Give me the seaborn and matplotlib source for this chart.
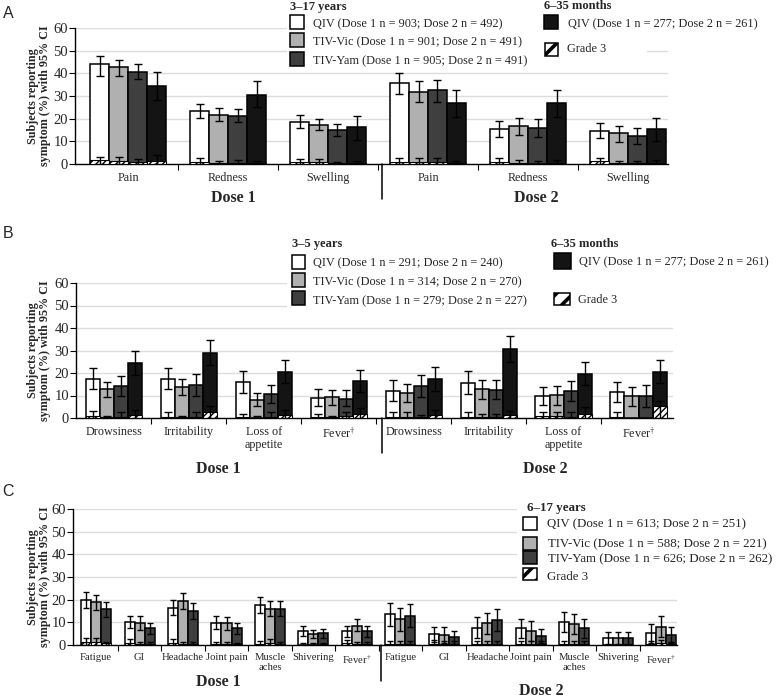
import numpy as np
import pandas as pd
import matplotlib
matplotlib.use("Agg")
import matplotlib.pyplot as plt
import seaborn as sns
from matplotlib.patches import Rectangle
from matplotlib.transforms import blended_transform_factory

# ---------------- data ----------------
GROUPS4 = ["QIV 3-17y", "TIV-Vic", "TIV-Yam", "QIV 6-35m"]
GROUPS3 = ["QIV", "TIV-Vic", "TIV-Yam"]

FEVER = r"Fever$^{\dagger}$"

A_cats = ["Pain", "Redness", "Swelling", "Pain", "Redness", "Swelling"]
A_qiv = [44.0, 23.4, 18.7, 35.7, 15.6, 14.7]
A_qiv_lo = [39.0, 20.4, 15.7, 31.0, 12.1, 11.3]
A_qiv_hi = [47.6, 26.3, 21.8, 40.1, 19.1, 17.9]
A_vic = [42.8, 21.6, 17.4, 31.9, 16.6, 13.5]
A_vic_lo = [39.0, 19.0, 14.9, 27.2, 12.8, 9.9]
A_vic_hi = [45.9, 24.6, 20.0, 36.5, 20.4, 16.9]
A_yam = [40.6, 21.0, 15.0, 32.5, 15.9, 12.4]
A_yam_lo = [37.4, 18.4, 12.4, 27.5, 11.8, 9.0]
A_yam_hi = [44.0, 24.1, 17.8, 37.1, 19.7, 15.7]
A_inf = [34.3, 30.6, 16.2, 26.8, 26.8, 15.3]
A_inf_lo = [28.4, 25.0, 10.7, 20.9, 20.7, 10.3]
A_inf_hi = [40.6, 36.8, 21.2, 32.6, 32.5, 20.4]
A_g3_qiv = [1.6, 1.0, 0.8, 1.0, 1.0, 1.2]
A_g3_qiv_hi = [3.2, 2.5, 2.2, 2.6, 2.5, 2.5]
A_g3_vic = [1.5, 0.4, 1.0, 1.0, 0.3, 0.3]
A_g3_vic_hi = [3.0, 1.5, 2.2, 2.6, 1.6, 1.3]
A_g3_yam = [1.0, 0.5, 0.3, 1.0, 0.2, 0.3]
A_g3_yam_hi = [2.2, 1.6, 1.0, 2.8, 1.2, 1.3]
A_g3_inf = [1.5, 0.3, 0.3, 0.3, 0.2, 0.2]
A_g3_inf_hi = [4.0, 1.5, 1.5, 1.5, 1.8, 1.6]

B_cats = ["Drowsiness", "Irritability", "Loss of\nappetite", FEVER,
          "Drowsiness", "Irritability", "Loss of\nappetite", FEVER]
B_qiv = [17.5, 17.3, 15.9, 9.0, 12.1, 15.6, 9.6, 11.6]
B_qiv_lo = [12.9, 12.9, 11.1, 5.5, 7.4, 10.8, 5.6, 7.1]
B_qiv_hi = [22.4, 22.2, 20.7, 12.9, 16.7, 20.7, 13.8, 16.0]
B_vic = [12.9, 13.8, 8.1, 9.2, 11.1, 12.9, 10.1, 9.6]
B_vic_lo = [9.3, 10.4, 5.2, 5.6, 7.0, 8.6, 5.9, 5.2]
B_vic_hi = [16.0, 17.3, 11.1, 12.6, 15.1, 17.0, 14.1, 13.9]
B_yam = [14.4, 14.5, 10.7, 8.6, 14.4, 12.6, 11.9, 9.6]
B_yam_lo = [9.9, 9.6, 6.7, 5.2, 9.3, 8.4, 7.4, 4.9]
B_yam_hi = [18.8, 19.6, 14.8, 12.3, 19.3, 17.0, 16.3, 14.5]
B_inf = [24.4, 28.9, 20.6, 16.4, 17.2, 30.7, 19.7, 20.6]
B_inf_lo = [19.3, 23.4, 15.6, 11.4, 11.9, 24.9, 14.8, 15.6]
B_inf_hi = [29.9, 34.8, 25.9, 21.5, 22.7, 36.6, 24.7, 25.9]
B_g3_qiv = [1.0, 0.5, 0.3, 0.3, 0.5, 0.5, 1.0, 0.5]
B_g3_qiv_hi = [3.3, 2.8, 2.0, 2.0, 2.5, 2.5, 2.5, 2.5]
B_g3_vic = [0.5, 0.3, 0.2, 0.3, 0.3, 0.3, 0.8, 0.0]
B_g3_vic_hi = [1.0, 1.0, 0.8, 1.0, 2.5, 2.0, 2.5, 0.0]
B_g3_yam = [0.5, 0.5, 0.5, 1.0, 0.3, 0.3, 0.3, 0.0]
B_g3_yam_hi = [2.5, 2.5, 2.5, 2.5, 1.2, 2.0, 2.5, 0.0]
B_g3_inf = [1.5, 2.5, 1.5, 2.0, 1.5, 1.5, 2.0, 5.2]
B_g3_inf_hi = [3.5, 5.5, 3.5, 4.4, 3.5, 3.0, 5.0, 7.5]

C_cats = ["Fatigue", "GI", "Headache", "Joint pain", "Muscle\naches", "Shivering", FEVER,
          "Fatigue", "GI", "Headache", "Joint pain", "Muscle\naches", "Shivering", FEVER]
C_qiv = [19.9, 10.0, 16.5, 9.9, 17.5, 6.3, 6.0, 13.5, 4.9, 7.6, 7.4, 10.3, 2.9, 5.1]
C_qiv_lo = [16.2, 7.4, 13.2, 6.9, 14.0, 4.0, 3.7, 8.5, 1.5, 2.9, 2.9, 5.6, 0.5, 1.0]
C_qiv_hi = [23.5, 12.8, 19.9, 12.6, 21.0, 8.5, 8.5, 18.4, 8.1, 12.2, 11.5, 14.7, 5.9, 9.3]
C_vic = [18.8, 9.6, 19.3, 9.6, 16.0, 4.9, 8.5, 11.5, 4.4, 9.6, 6.3, 9.3, 2.9, 8.1]
C_vic_lo = [15.4, 6.6, 15.9, 6.5, 12.6, 2.9, 6.0, 6.3, 1.0, 4.9, 1.9, 4.9, 0.5, 3.4]
C_vic_hi = [21.9, 12.8, 22.8, 12.5, 19.4, 6.6, 11.3, 16.5, 7.8, 14.3, 10.6, 13.7, 5.9, 12.8]
C_yam = [15.7, 7.4, 15.1, 7.4, 16.0, 5.1, 6.0, 12.9, 3.4, 11.2, 4.0, 7.4, 2.9, 4.4]
C_yam_lo = [12.5, 4.9, 11.5, 4.7, 12.6, 2.9, 3.7, 8.1, 0.4, 6.3, 0.7, 2.9, 0.5, 1.0]
C_yam_hi = [19.0, 9.9, 18.7, 9.9, 19.3, 7.2, 8.5, 17.9, 6.3, 15.7, 7.1, 11.3, 5.6, 7.8]
C_g3_qiv = [1.5, 0.8, 0.8, 0.3, 0.5, 0.2, 0.8, 0.3, 0.3, 0.3, 0.3, 0.3, 0.0, 0.3]
C_g3_qiv_hi = [3.2, 2.5, 2.5, 1.3, 1.8, 0.8, 2.2, 1.8, 2.2, 1.8, 1.8, 1.8, 0.0, 1.8]
C_g3_vic = [1.5, 0.5, 0.5, 0.3, 1.0, 0.2, 0.5, 0.3, 0.3, 0.3, 0.3, 0.3, 0.0, 1.0]
C_g3_vic_hi = [3.0, 1.5, 1.5, 1.3, 2.5, 0.8, 1.5, 1.8, 1.8, 1.8, 1.8, 1.8, 0.0, 2.0]
C_g3_yam = [1.0, 0.3, 0.5, 0.3, 0.5, 0.2, 0.5, 0.3, 0.3, 0.3, 0.3, 0.3, 0.0, 0.5]
C_g3_yam_hi = [1.5, 1.2, 1.5, 1.0, 1.5, 0.8, 1.3, 1.8, 1.8, 1.8, 1.8, 1.8, 0.0, 1.5]

COLORS = ["#ffffff", "#b0b0b0", "#3f3f3f", "#141414"]

# ---------------- style ----------------
sns.set_theme(style="ticks")
plt.rcParams["font.family"] = ["Liberation Serif", "DejaVu Serif"]
plt.rcParams["mathtext.fontset"] = "stix"
plt.rcParams["hatch.linewidth"] = 1.0
plt.rcParams["hatch.color"] = "black"

W, H = 779, 699
fig = plt.figure(figsize=(W / 100, H / 100), dpi=100)


def fx(x):
    return x / W


def fy(y):
    return 1 - y / H


def panel(rect, xlim, cats, groups, colors, vals, los, his, g3, g3hi,
          width, lab_fs, cap, sep_x, sep_len):
    l, r, t, b = rect
    ax = fig.add_axes([fx(l), fy(b), (r - l) / W, (b - t) / H])
    keys = [str(i) for i in range(len(cats))]
    rows = []
    for g, vs in zip(groups, vals):
        for k, v in zip(keys, vs):
            rows.append({"cat": k, "grp": g, "val": v})
    df = pd.DataFrame(rows)
    sns.barplot(data=df, x="cat", y="val", hue="grp", order=keys, hue_order=groups,
                palette=colors, width=width, edgecolor="black", linewidth=1.1,
                errorbar=None, legend=False, saturation=1, ax=ax)
    conts = list(ax.containers)
    for j, cont in enumerate(conts):
        xs = np.array([p.get_x() + p.get_width() / 2 for p in cont.patches])
        bw = cont.patches[0].get_width()
        v = np.array(vals[j])
        ax.errorbar(xs, v, yerr=[v - np.array(los[j]), np.array(his[j]) - v], fmt="none",
                    ecolor="black", elinewidth=1.0, capsize=cap, capthick=1.0, zorder=5)
        gv = np.array(g3[j])
        gh = np.array(g3hi[j])
        m = gv > 0
        ax.bar(xs[m], gv[m], width=bw, facecolor="white", edgecolor="black",
               hatch="/////", linewidth=0.8, zorder=4)
        m2 = gh > 0
        ax.errorbar(xs[m2], gv[m2], yerr=[gv[m2], gh[m2] - gv[m2]], fmt="none",
                    ecolor="black", elinewidth=1.0, capsize=cap, capthick=1.0, zorder=5)
    ax.set_ylim(0, 60)
    ax.set_yticks(range(0, 61, 10))
    ax.set_xlim(*xlim)
    ax.set_xticks(range(len(cats)))
    ax.set_xticklabels(cats, fontsize=lab_fs, linespacing=1.05)
    ax.set_xticks(np.arange(0.5, len(cats) - 0.5), minor=True)
    ax.tick_params(axis="x", which="major", length=0, pad=6)
    ax.tick_params(axis="x", which="minor", length=4, direction="out", color="black", width=0.8)
    ax.tick_params(axis="y", length=4, direction="out", pad=1, labelsize=10.5,
                   color="black", width=0.8)
    ax.set_axisbelow(True)
    ax.yaxis.grid(True, color="#dcdcdc", lw=1.0)
    ax.xaxis.grid(False)
    for s in ["top", "right"]:
        ax.spines[s].set_visible(False)
    for s in ["left", "bottom"]:
        ax.spines[s].set_color("black")
        ax.spines[s].set_linewidth(1.0)
    ax.set_xlabel("")
    ax.set_ylabel("")
    tr = blended_transform_factory(ax.transData, ax.transAxes)
    ax.plot([sep_x, sep_x], [0, -sep_len], transform=tr, color="black", lw=1.1, clip_on=False)
    fig.text(fx(39), fy((t + b) / 2), "Subjects reporting\nsymptom (%) with 95% CI",
             rotation=90, ha="center", va="center", fontsize=8.7, fontweight="bold",
             linespacing=1.0, multialignment="center")
    return ax


# Panel A
panel((75, 668, 28, 164), (-0.53, 5.4), A_cats, GROUPS4, COLORS,
      [A_qiv, A_vic, A_yam, A_inf], [A_qiv_lo, A_vic_lo, A_yam_lo, A_inf_lo],
      [A_qiv_hi, A_vic_hi, A_yam_hi, A_inf_hi],
      [A_g3_qiv, A_g3_vic, A_g3_yam, A_g3_inf],
      [A_g3_qiv_hi, A_g3_vic_hi, A_g3_yam_hi, A_g3_inf_hi],
      0.76, 8.7, 3, 2.54, 0.257)

# Panel B
panel((76, 673, 283, 418), (-0.507, 7.46), B_cats, GROUPS4, COLORS,
      [B_qiv, B_vic, B_yam, B_inf], [B_qiv_lo, B_vic_lo, B_yam_lo, B_inf_lo],
      [B_qiv_hi, B_vic_hi, B_yam_hi, B_inf_hi],
      [B_g3_qiv, B_g3_vic, B_g3_yam, B_g3_inf],
      [B_g3_qiv_hi, B_g3_vic_hi, B_g3_yam_hi, B_g3_inf_hi],
      0.75, 8.7, 3, 3.58, 0.26)

# Panel C
panel((73, 677, 509, 645), (-0.53, 13.36), C_cats, GROUPS3, COLORS[:3],
      [C_qiv, C_vic, C_yam], [C_qiv_lo, C_vic_lo, C_yam_lo],
      [C_qiv_hi, C_vic_hi, C_yam_hi],
      [C_g3_qiv, C_g3_vic, C_g3_yam],
      [C_g3_qiv_hi, C_g3_vic_hi, C_g3_yam_hi],
      0.69, 7.7, 2.3, 6.55, 0.265)


# ---------------- legends / labels ----------------
def cover(x0, y0, x1, y1):
    fig.add_artist(Rectangle((fx(x0), fy(y1)), (x1 - x0) / W, (y1 - y0) / H,
                             transform=fig.transFigure, facecolor="white",
                             edgecolor="none", zorder=2))


def box(x0, y0, x1, y1, color, hatch=None):
    r = Rectangle((fx(x0), fy(y1)), (x1 - x0) / W, (y1 - y0) / H,
                  transform=fig.transFigure, facecolor=color,
                  edgecolor="black", lw=1.1, hatch=hatch, zorder=3)
    if hatch:
        try:
            r.set_hatch_linewidth(2.6)
        except Exception:
            pass
    fig.add_artist(r)


def txt(x, y, s, fs, bold=False, ha="left", family=None):
    kw = {}
    if family:
        kw["family"] = family
    fig.text(fx(x), fy(y), s, ha=ha, va="center", fontsize=fs,
             fontweight="bold" if bold else "normal", zorder=4, **kw)


# legend A
cover(287, 0, 672, 45)
cover(287, 45, 647, 68)
txt(290, 7, "3\u201317 years", 9, bold=True)
box(290, 15, 304, 29, COLORS[0]); txt(313, 24, "QIV (Dose 1 n = 903; Dose 2 n = 492)", 8.8)
box(290, 33, 304, 47, COLORS[1]); txt(313, 42, "TIV-Vic (Dose 1 n = 901; Dose 2 n = 491)", 8.8)
box(290, 52, 304, 66, COLORS[2]); txt(313, 61, "TIV-Yam (Dose 1 n = 905; Dose 2 n = 491)", 8.8)
txt(544, 6, "6\u201335 months", 9, bold=True)
box(544, 15, 558, 29, COLORS[3]); txt(568, 24, "QIV (Dose 1 n = 277; Dose 2 n = 261)", 8.8)
box(545, 43, 558, 56, "white", hatch="//"); txt(567, 49, "Grade 3", 8.8)

# legend B
cover(287, 225, 680, 312)
txt(292, 244, "3\u20135 years", 9, bold=True)
box(292, 255, 305, 269, COLORS[0]); txt(313, 263, "QIV (Dose 1 n = 291; Dose 2 n = 240)", 8.8)
box(292, 273, 305, 287, COLORS[1]); txt(313, 282, "TIV-Vic (Dose 1 n = 314; Dose 2 n = 270)", 8.8)
box(292, 291, 305, 305, COLORS[2]); txt(313, 301, "TIV-Yam (Dose 1 n = 279; Dose 2 n = 227)", 8.8)
txt(551, 244, "6\u201335 months", 9, bold=True)
box(554, 253, 571, 269, COLORS[3]); txt(579, 262, "QIV (Dose 1 n = 277; Dose 2 n = 261)", 8.8)
box(554, 293, 570, 305, "white", hatch="//"); txt(578, 300, "Grade 3", 8.8)

# legend C
cover(517, 495, 690, 586)
txt(527, 508, "6\u201317 years", 9.3, bold=True)
box(523, 517, 537, 530, COLORS[0]); txt(547, 524, "QIV (Dose 1 n = 613; Dose 2 n = 251)", 9.3)
box(523, 537, 537, 550, COLORS[1]); txt(548, 544, "TIV-Vic (Dose 1 n = 588; Dose 2 n = 221)", 9.3)
box(523, 551, 537, 564, COLORS[2]); txt(548, 559, "TIV-Yam (Dose 1 n = 626; Dose 2 n = 262)", 9.3)
box(523, 568, 537, 580, "white", hatch="//"); txt(547, 577, "Grade 3", 9.3)

# dose labels
txt(233, 198, "Dose 1", 11.5, bold=True, ha="center")
txt(536, 198, "Dose 2", 11.5, bold=True, ha="center")
txt(218, 469, "Dose 1", 11.5, bold=True, ha="center")
txt(545, 469, "Dose 2", 11.5, bold=True, ha="center")
txt(218, 682, "Dose 1", 11.5, bold=True, ha="center")
txt(541, 691, "Dose 2", 11.5, bold=True, ha="center")

# panel letters
txt(3, 14, "A", 11.5, family="Liberation Sans")
txt(3, 234, "B", 11.5, family="Liberation Sans")
txt(2, 491, "C", 11.5, family="Liberation Sans")

fig.savefig("out.png", dpi=100)
